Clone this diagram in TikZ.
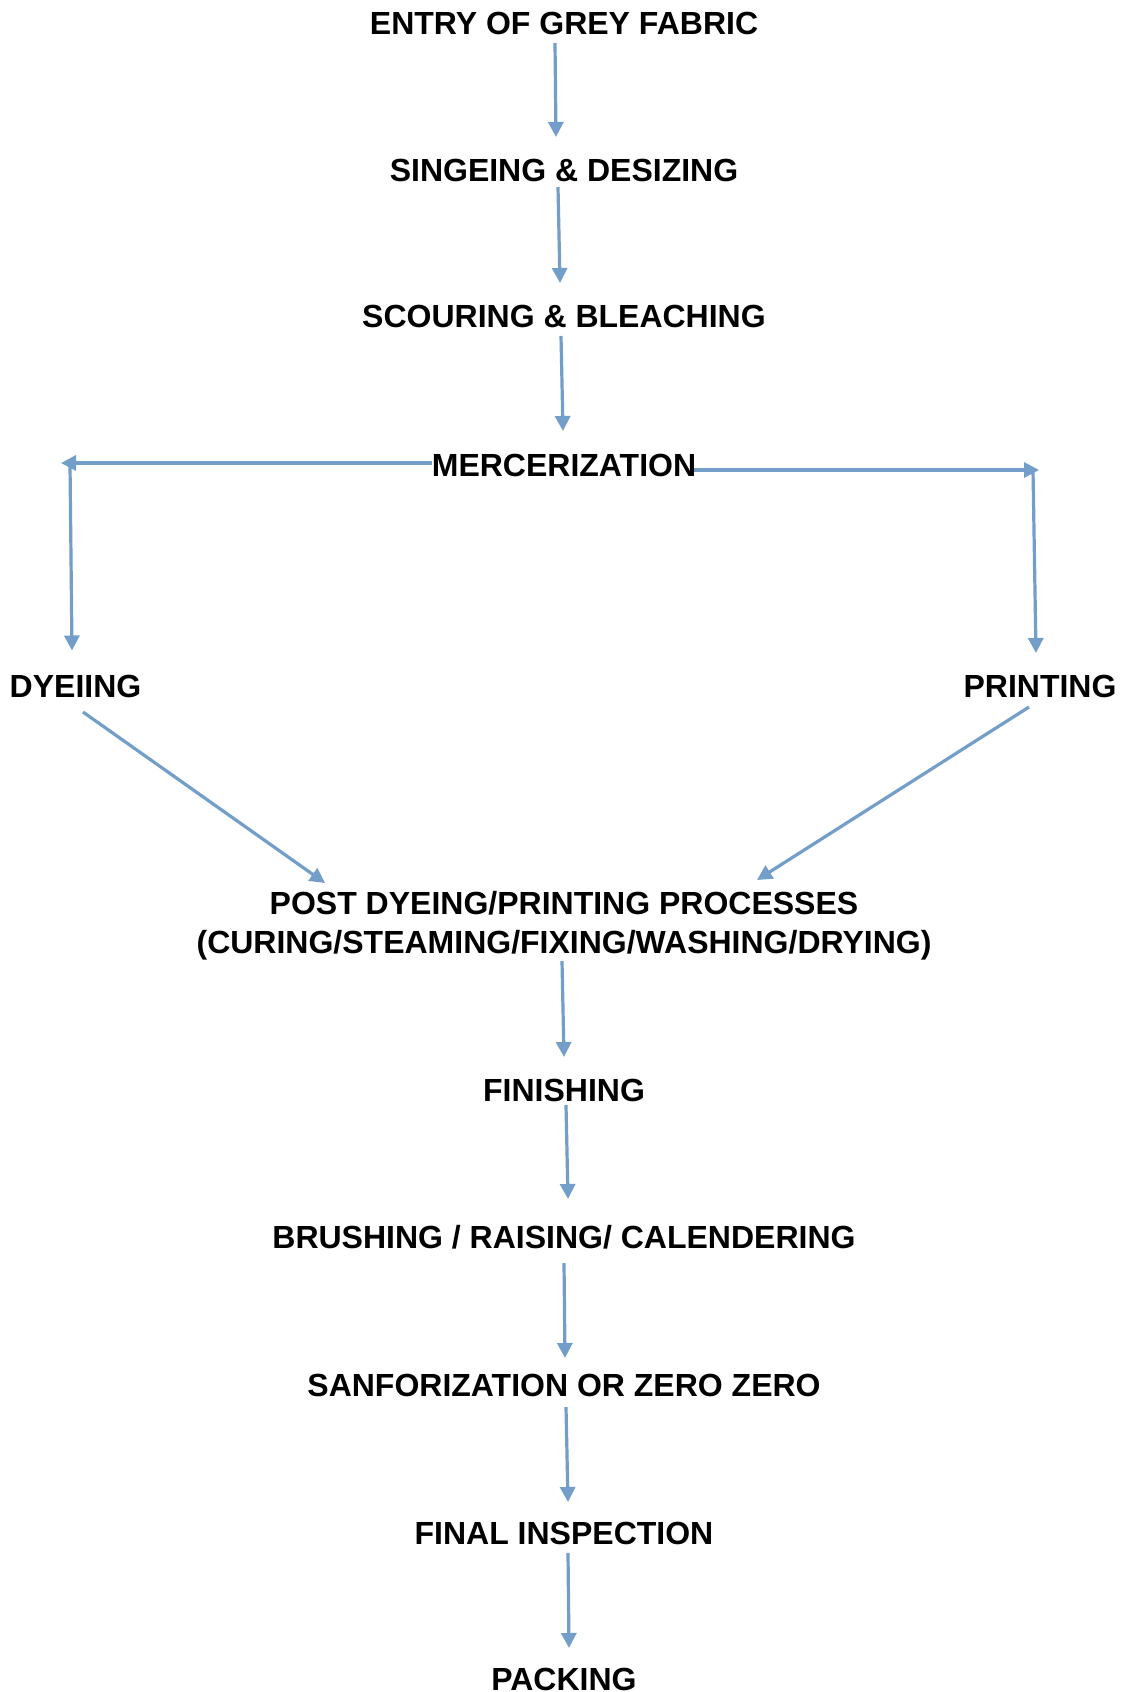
\documentclass[tikz,border=0pt]{standalone}
\usepackage{fontspec}
\setmainfont{Liberation Sans}
\usetikzlibrary{arrows.meta,calc}
\definecolor{arrowblue}{RGB}{115,158,201}
\begin{document}
\begin{tikzpicture}[x=1pt,y=-1pt,
  label/.style={inner sep=0pt,outer sep=0pt,text height=23pt,text depth=0pt,
    font=\fontsize{32}{37}\selectfont\bfseries},
  arr/.style={draw=arrowblue,line width=3.2pt,
    -{Triangle[length=15pt,width=15pt,fill=arrowblue]}}]
\useasboundingbox (0,0) rectangle (1125,1692);
\fill[white] (0,0) rectangle (1125,1692);
\node[label] (ent) at (564,22.5) {ENTRY OF GREY FABRIC};
\node[label] (sing) at (564,170) {SINGEING \& DESIZING};
\node[label] (scour) at (564,315.5) {SCOURING \& BLEACHING};
\node[label] (mer) at (564,464.5) {MERCERIZATION};
\node[label] (dye) at (75.5,686) {DYEIING};
\node[label] (prt) at (1040,686) {PRINTING};
\node[label] (post1) at (564,903) {POST DYEING/PRINTING PROCESSES};
\node[label] (post2) at (564,941.5) {(CURING/STEAMING/FIXING/WASHING/DRYING)};
\node[label] (fin) at (564,1089.5) {FINISHING};
\node[label] (bru) at (564,1237) {BRUSHING / RAISING/ CALENDERING};
\node[label] (sanf) at (564,1385) {SANFORIZATION OR ZERO ZERO};
\node[label] (final) at (564,1532.5) {FINAL INSPECTION};
\node[label] (pack) at (564,1678.5) {PACKING};
\coordinate (lt) at (61,463);
\coordinate (lc) at (70,464);
\coordinate (rt) at (1039,470);
\coordinate (rc) at (1033,470);
% main column
\draw[arr] ($(ent.south)+(-9,9)$) -- ($(sing.north)+(-8,-21.5)$);
\draw[arr] ($(sing.south)+(-6,5.5)$) -- ($(scour.north)+(-4,-21)$);
\draw[arr] ($(scour.south)+(-3,9)$) -- ($(mer.north)+(-1,-22)$);
\draw[arr] ($(post2.south)+(-2,8)$) -- ($(fin.north)+(0,-21)$);
\draw[arr] ($(fin.south)+(2,4)$) -- ($(bru.north)+(4,-26.5)$);
\draw[arr] ($(bru.south)+(0,14.5)$) -- ($(sanf.north)+(1,-15.5)$);
\draw[arr] ($(sanf.south)+(2,10.5)$) -- ($(final.north)+(4,-19)$);
\draw[arr] ($(final.south)+(4,9)$) -- ($(pack.north)+(5,-19)$);
% branches
\draw[arr] ($(mer.west)+(0,-1.5)$) -- (lt);
\draw[arr] (lc) -- ($(dye.north)+(-3.5,-24)$);
\draw[arr] ($(mer.east)+(-2,5.5)$) -- (rt);
\draw[arr] (rc) -- ($(prt.north)+(-4,-21.5)$);
% merge
\draw[arr] ($(dye.south)+(7.5,14.5)$) -- ($(post1.north)+(-239,-8.5)$);
\draw[arr] ($(prt.south)+(-11,9.5)$) -- ($(post1.north)+(193,-11.5)$);
\end{tikzpicture}
\end{document}
